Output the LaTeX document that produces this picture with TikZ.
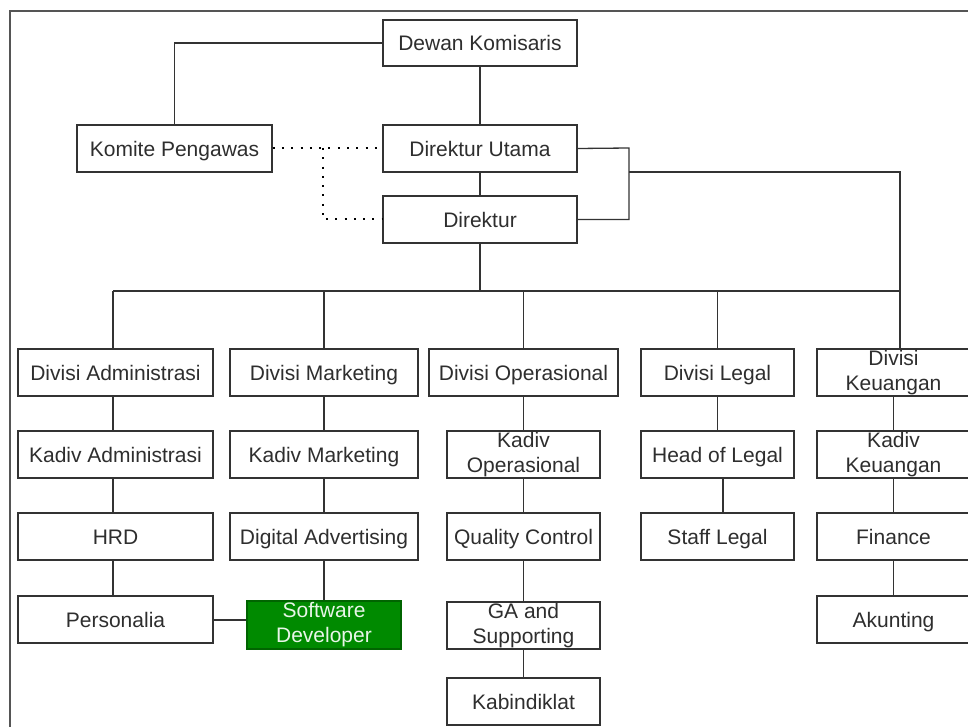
\documentclass[tikz,border=0pt]{standalone}
\usepackage{fontspec}
\setmainfont{Liberation Sans}
\definecolor{ln}{HTML}{333333}
\definecolor{tx}{HTML}{2E2E2E}
\definecolor{frm}{HTML}{555555}
\definecolor{gfill}{HTML}{008A00}
\definecolor{gdraw}{HTML}{006400}
\definecolor{gtext}{HTML}{E8F5E8}
\newcommand\bx[7][]{\node[box,#1,minimum width={#5-#3},minimum height={#6-#4}] (#2) at ({(#3+#5)/2},{(#4+#6)/2}) {#7};}
\tikzset{
  box/.style={draw=ln,line width=1.3pt,fill=white,inner sep=0pt,align=center,text=tx,font=\fontsize{21}{25}\selectfont,text height=16pt,text depth=0pt},
  two/.style={text height={},text depth={}},
  green/.style={fill=gfill,draw=gdraw,text=gtext},
  conn/.style={draw=ln,line width=1.3pt},
  dots/.style={draw=black,line width=2pt,dash pattern=on 2pt off 7.3pt},
}
\begin{document}
\begin{tikzpicture}[x=1pt,y=-1pt]
\useasboundingbox (0,0) rectangle (968,727);
\fill[white] (0,0) rectangle (968,727);
\draw[frm,line width=1.3pt] (10,727) -- (10,11) -- (968,11);
% top
\bx{dk}{383}{20}{577}{66}{Dewan Komisaris}
\bx{kp}{77}{125}{272}{172}{Komite Pengawas}
\bx{du}{383}{125}{577}{172}{Direktur Utama}
\bx{dr}{383}{196}{577}{243}{Direktur}
% row 1
\bx{da}{18}{349}{213}{396}{Divisi Administrasi}
\bx{dm}{230}{349}{418}{396}{Divisi Marketing}
\bx{dop}{429}{349}{618}{396}{Divisi Operasional}
\bx{dl}{641}{349}{794}{396}{Divisi Legal}
\bx[two]{dku}{817}{349}{970}{396}{Divisi\\Keuangan}
% row 2
\bx{ka}{18}{431}{213}{478}{Kadiv Administrasi}
\bx{km}{230}{431}{418}{478}{Kadiv Marketing}
\bx[two]{kop}{447}{431}{600}{478}{Kadiv\\Operasional}
\bx{hl}{641}{431}{794}{478}{Head of Legal}
\bx[two]{kk}{817}{431}{970}{478}{Kadiv\\Keuangan}
% row 3
\bx{hrd}{18}{513}{213}{560}{HRD}
\bx{dig}{230}{513}{418}{560}{Digital Advertising}
\bx{qc}{447}{513}{600}{560}{Quality Control}
\bx{sl}{641}{513}{794}{560}{Staff Legal}
\bx{fin}{817}{513}{970}{560}{Finance}
% row 4
\bx{pers}{18}{596}{213}{643}{Personalia}
\bx[green,two]{sd}{247}{601}{401}{649}{Software\\Developer}
\bx[two]{ga}{447}{602}{600}{649}{GA and\\Supporting}
\bx{ak}{817}{596}{970}{643}{Akunting}
% row 5
\bx{kab}{447}{678}{600}{725}{Kabindiklat}
% coordinates
\coordinate (busL) at (113,291);
\coordinate (busR) at (900,291);
\coordinate (rj) at (629,148);
\coordinate (rk) at (629,172);
\coordinate (kv) at (900,349);
\coordinate (dj) at (323,148);
% connectors
\draw[conn] (dk.west) -| (kp.north);
\draw[conn] (dk.south) -- (du.north);
\draw[conn] (du.south) -- (dr.north);
\draw[conn] (du.east) -- (rj) |- (dr.east);
\draw[conn] (rk) -| (kv);
\draw[conn] (busL) -- (busR);
\draw[conn] (dr.south) -- (dr.south |- busL);
\draw[conn] (busL) -- (busL |- da.north);
\draw[conn] (dm.north |- busL) -- (dm.north);
\draw[conn] (dop.north |- busL) -- (dop.north);
\draw[conn] (dl.north |- busL) -- (dl.north);
\draw[conn] (da.south -| busL) -- (ka.north -| busL);
\draw[conn] (ka.south -| busL) -- (hrd.north -| busL);
\draw[conn] (hrd.south -| busL) -- (pers.north -| busL);
\draw[conn] (dm.south) -- (km.north);
\draw[conn] (km.south) -- (dig.north);
\draw[conn] (dig.south) -- (sd.north);
\draw[conn] (dop.south) -- (kop.north);
\draw[conn] (kop.south) -- (qc.north);
\draw[conn] (qc.south) -- (ga.north);
\draw[conn] (ga.south) -- (kab.north);
\draw[conn] (dl.south) -- (hl.north);
\draw[conn] ([xshift=5.5pt]hl.south) -- ([xshift=5.5pt]sl.north);
\draw[conn] (dku.south) -- (kk.north);
\draw[conn] (kk.south) -- (fin.north);
\draw[conn] (fin.south) -- (ak.north);
\draw[conn] ([yshift=-0.5pt]pers.east) -- ([yshift=-0.5pt]pers.east -| sd.west);
% dotted
\draw[dots] (kp.east) -- (du.west);
\draw[dots] (dj) |- (dr.west);
\end{tikzpicture}
\end{document}
